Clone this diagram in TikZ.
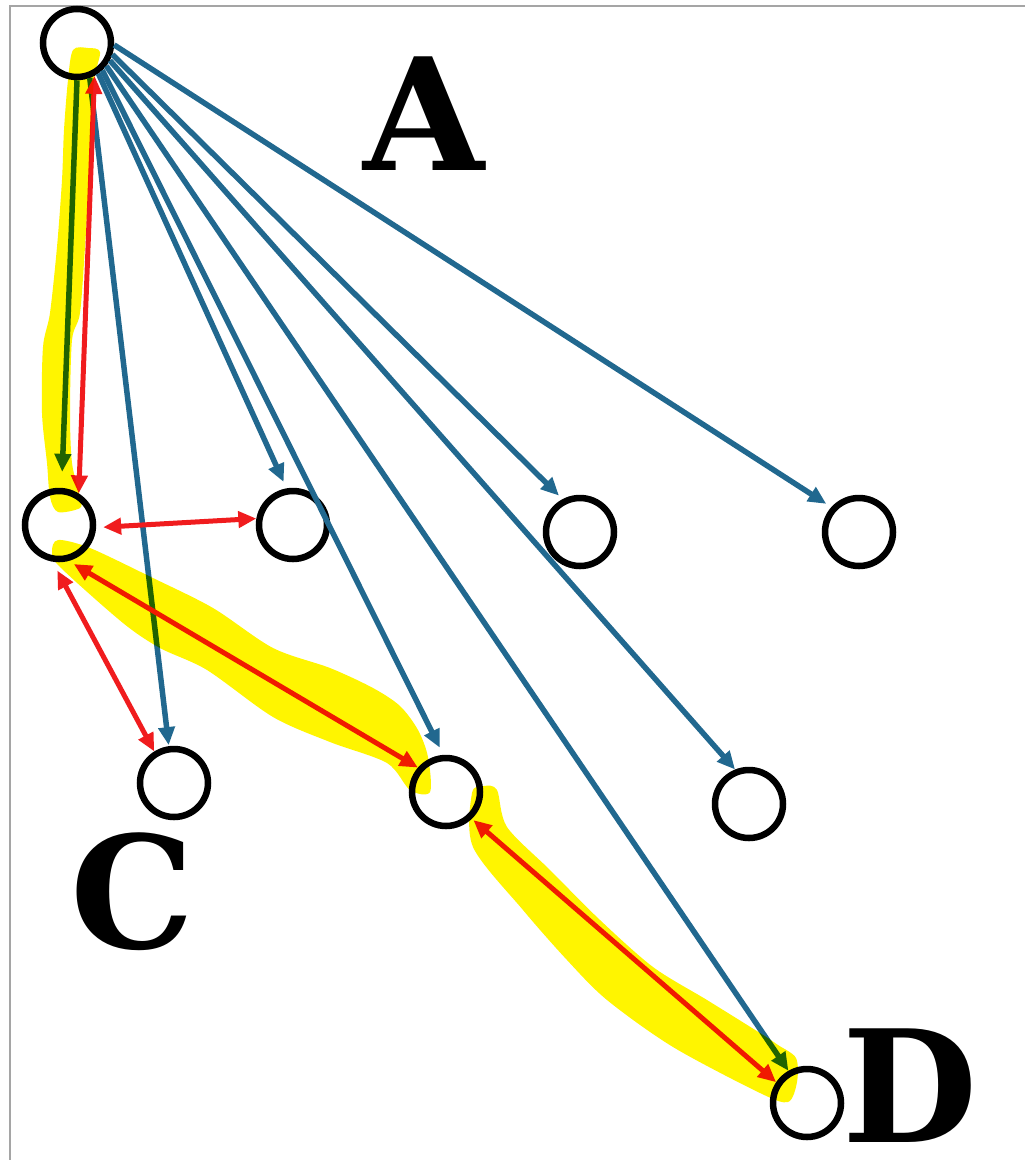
\documentclass[tikz,border=0pt]{standalone}
\usepackage{fontspec}
\newfontfamily\letterfont{DejaVu Serif}
\usetikzlibrary{arrows.meta}
\definecolor{eblue}{RGB}{33,104,143}
\definecolor{ered}{RGB}{240,28,30}
\definecolor{hlyellow}{RGB}{255,245,0}
\definecolor{framegray}{RGB}{165,165,165}
\begin{document}
\begin{tikzpicture}[x=1pt,y=-1pt,
  vert/.style={circle,draw=black,line width=6.5pt,minimum size=68pt,inner sep=0pt},
  bluearrow/.style={draw=eblue,line width=5.5pt,-{Triangle[length=18pt,width=16pt]}},
  redarrow/.style={draw=ered,line width=5pt,{Triangle[length=18pt,width=16pt]}-{Triangle[length=18pt,width=16pt]}},
  bigletter/.style={font={\letterfont\bfseries\fontsize{156pt}{156pt}\selectfont},inner sep=0pt,anchor=base},
  highlight/.style={fill=hlyellow,blend mode=multiply}]
\useasboundingbox (0,0) rectangle (1025,1160);
% frame
\draw[framegray,line width=2.5pt] (10,1160) -- (10,6) -- (1025,6);
% vertices
\node[vert] (A) at (77,43) {};
\node[vert] (B1) at (59,525) {};
\node[vert] (B2) at (293,525) {};
\node[vert] (B3) at (580,532) {};
\node[vert] (B4) at (859,532) {};
\node[vert] (C1) at (174,783) {};
\node[vert] (C2) at (446,792) {};
\node[vert] (C3) at (749,804) {};
\node[vert] (D) at (807,1103) {};
% letters
\node[bigletter] (LA) at (424,170) {A};
\node[bigletter] (LC) at (133,948) {C};
\node[bigletter] (LD) at (910,1142) {D};
% blue arrows from A
\draw[bluearrow,shorten >=16pt] (A.-90) -- (B1.86);
\draw[bluearrow,shorten >=1pt] (A.-70) -- (C1.98);
\draw[bluearrow,shorten >=7pt] (A.-55) -- (B2.100);
\draw[bluearrow,shorten >=8pt] (A.-47) -- (C2.94);
\draw[bluearrow] (A.-38) -- (D.120);
\draw[bluearrow] (A.-28) -- (C3.112);
\draw[bluearrow,shorten >=5pt] (A.-18) -- (B3.118);
\draw[bluearrow,shorten >=6pt] (A.-3) -- (B4.138);
% red double arrows
\draw[redarrow] (A.-62) -- (B1.58);
\draw[redarrow,shorten <=7pt] (B1.-4) -- (B2.170);
\draw[redarrow,shorten <=10pt] (B1.-100) -- (C1.122);
\draw[redarrow,shorten <=6pt] (B1.-75) -- (C2.139);
\draw[redarrow,shorten <=2pt] (C2.-46) -- (D.146);
% highlighter strokes
\fill[highlight] plot[smooth cycle,tension=0.5] coordinates {
  (73,50) (68,80) (64,130) (62,180) (57,247) (50,313) (43,347) (42,413)
  (47,463) (50,497) (58,512) (80,508) (80,497) (72,463) (70,413) (72,340)
  (80,313) (85,247) (89,180) (91,130) (94,80) (100,52) (88,48)};
\fill[highlight] plot[smooth cycle,tension=0.5] coordinates {
  (58,540) (90,548) (153,578) (213,608) (273,648) (330,668) (373,688)
  (400,706) (418,730) (428,757) (430,792) (410,790) (387,763) (330,742)
  (273,717) (207,670) (160,648) (123,623) (60,567) (52,552)};
\fill[highlight] plot[smooth cycle,tension=0.5] coordinates {
  (497,790) (507,827) (550,870) (600,920) (653,967) (707,1000) (760,1033)
  (778,1045) (796,1058) (797,1082) (788,1102) (760,1093) (673,1047)
  (607,1000) (567,960) (523,910) (473,847) (472,793) (484,786)};
\end{tikzpicture}
\end{document}
